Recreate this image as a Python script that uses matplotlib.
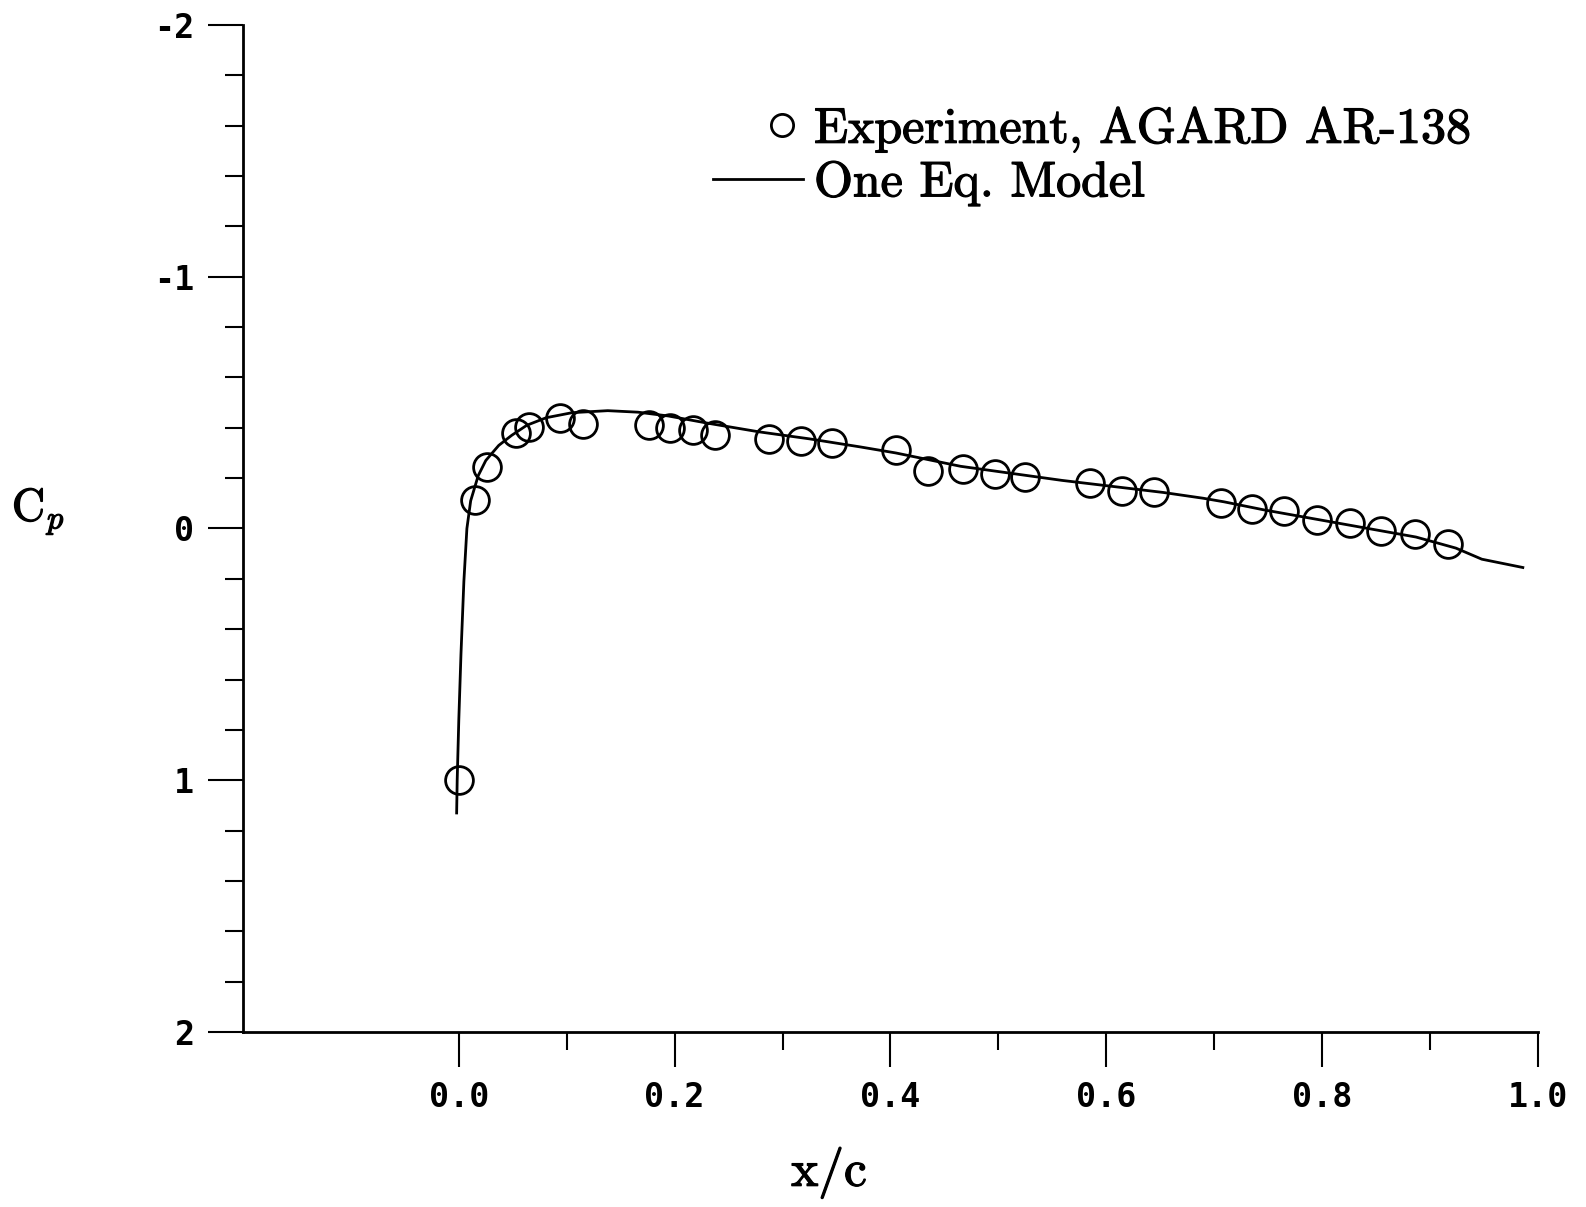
import numpy as np
import matplotlib
matplotlib.use("Agg")
import matplotlib.pyplot as plt
import matplotlib.patheffects as pe
from matplotlib.lines import Line2D
from matplotlib.legend_handler import HandlerLine2D
from matplotlib.ticker import FixedLocator, FuncFormatter, FormatStrFormatter

plt.rcParams['mathtext.fontset'] = 'cm'

# Experimental data (AGARD AR-138)
exp_x = [0.0, 0.015, 0.026, 0.053, 0.065, 0.094, 0.115, 0.176, 0.196, 0.217,
         0.237, 0.287, 0.317, 0.346, 0.405, 0.435, 0.467, 0.497, 0.525, 0.585,
         0.615, 0.644, 0.706, 0.735, 0.765, 0.795, 0.826, 0.855, 0.886, 0.917]
exp_cp = [1.00, -0.115, -0.243, -0.38, -0.404, -0.44, -0.416, -0.41, -0.40, -0.39,
          -0.37, -0.356, -0.348, -0.34, -0.31, -0.227, -0.235, -0.215, -0.203, -0.179,
          -0.15, -0.143, -0.10, -0.078, -0.07, -0.034, -0.022, 0.01, 0.022, 0.062]

# One equation model
mod_x = [-0.002, -0.0015, 0.0, 0.002, 0.0047, 0.0075, 0.011, 0.018, 0.025, 0.037,
         0.049, 0.063, 0.081, 0.105, 0.138, 0.166, 0.194, 0.231, 0.278, 0.325,
         0.372, 0.405, 0.465, 0.512, 0.559, 0.606, 0.653, 0.69, 0.709, 0.746,
         0.793, 0.840, 0.887, 0.924, 0.948, 0.986]
mod_cp = [1.13, 1.0, 0.76, 0.50, 0.21, 0.0, -0.11, -0.21, -0.27, -0.33,
          -0.37, -0.41, -0.44, -0.46, -0.468, -0.462, -0.447, -0.418, -0.384, -0.356,
          -0.324, -0.30, -0.247, -0.219, -0.191, -0.167, -0.143, -0.12, -0.106, -0.074,
          -0.038, -0.002, 0.034, 0.078, 0.122, 0.155]

x_major = [0.0, 0.2, 0.4, 0.6, 0.8, 1.0]
x_minor = [0.1, 0.3, 0.5, 0.7, 0.9]
y_major = [-2, -1, 0, 1, 2]
y_minor = list(np.arange(-2, 2.01, 0.2))

bold = [pe.withStroke(linewidth=0.9, foreground='black')]

fig = plt.figure(figsize=(15.86, 12.07), dpi=100)
ax = fig.add_axes([0.1532, 0.1450, 0.8165, 0.8343])

ax.plot(mod_x, mod_cp, color='black', lw=2.0, label='One Eq. Model')
ax.plot(exp_x, exp_cp, linestyle='none', marker='o', markersize=20,
        markerfacecolor='none', markeredgecolor='black', markeredgewidth=2.0,
        label='Experiment, AGARD AR-138')

ax.set_xlim(-0.2, 1.0)
ax.set_ylim(2, -2)

for s in ['top', 'right']:
    ax.spines[s].set_visible(False)
for s in ['left', 'bottom']:
    ax.spines[s].set_linewidth(2.0)

ax.xaxis.set_major_locator(FixedLocator(x_major))
ax.xaxis.set_minor_locator(FixedLocator(x_minor))
ax.yaxis.set_major_locator(FixedLocator(y_major))
ax.yaxis.set_minor_locator(FixedLocator(y_minor))
ax.xaxis.set_major_formatter(FormatStrFormatter('%.1f'))
ax.yaxis.set_major_formatter(FuncFormatter(lambda v, p: f"{v:.0f}"))

ax.tick_params(which='major', direction='out', length=25, width=1.5, pad=10,
               labelsize=24)
ax.tick_params(which='minor', direction='out', length=13, width=1.5)
for lab in ax.get_xticklabels() + ax.get_yticklabels():
    lab.set_fontfamily('DejaVu Sans Mono')
    lab.set_fontweight('bold')

ax.set_xlabel('x/c', fontfamily='cmr10', fontsize=37, va='center',
              path_effects=bold)
ax.xaxis.set_label_coords(0.4525, -0.14)
ax.set_ylabel(r'$\mathrm{C}_p$', fontsize=33, rotation=0, ha='center', va='center',
              path_effects=bold)
ax.yaxis.set_label_coords(-0.158, 0.517)


class RightMarkerHandler(HandlerLine2D):
    def get_xdata(self, legend, xdescent, ydescent, width, height, fontsize):
        # single marker is drawn at the middle of xdata -> put it at 0.77*width
        xdata = [-xdescent + 0.54 * width, -xdescent + width]
        return xdata, [-xdescent + 0.77 * width]


h_exp = Line2D([], [], linestyle='none', marker='o', markersize=16,
               markerfacecolor='none', markeredgecolor='black', markeredgewidth=2.0)
h_mod = Line2D([], [], color='black', lw=2.0)
leg = ax.legend([h_exp, h_mod], ['Experiment, AGARD AR-138', 'One Eq. Model'],
                handler_map={h_exp: RightMarkerHandler(numpoints=1)},
                loc='upper left', bbox_to_anchor=(0.4496, 0.912),
                bbox_transform=fig.transFigure, frameon=False,
                prop={'family': 'cmr10', 'size': 36}, handlelength=1.8,
                handletextpad=0.22, borderpad=0, borderaxespad=0,
                labelspacing=0.15)
for t in leg.get_texts():
    t.set_path_effects(bold)

fig.savefig('out.png', dpi=100)
